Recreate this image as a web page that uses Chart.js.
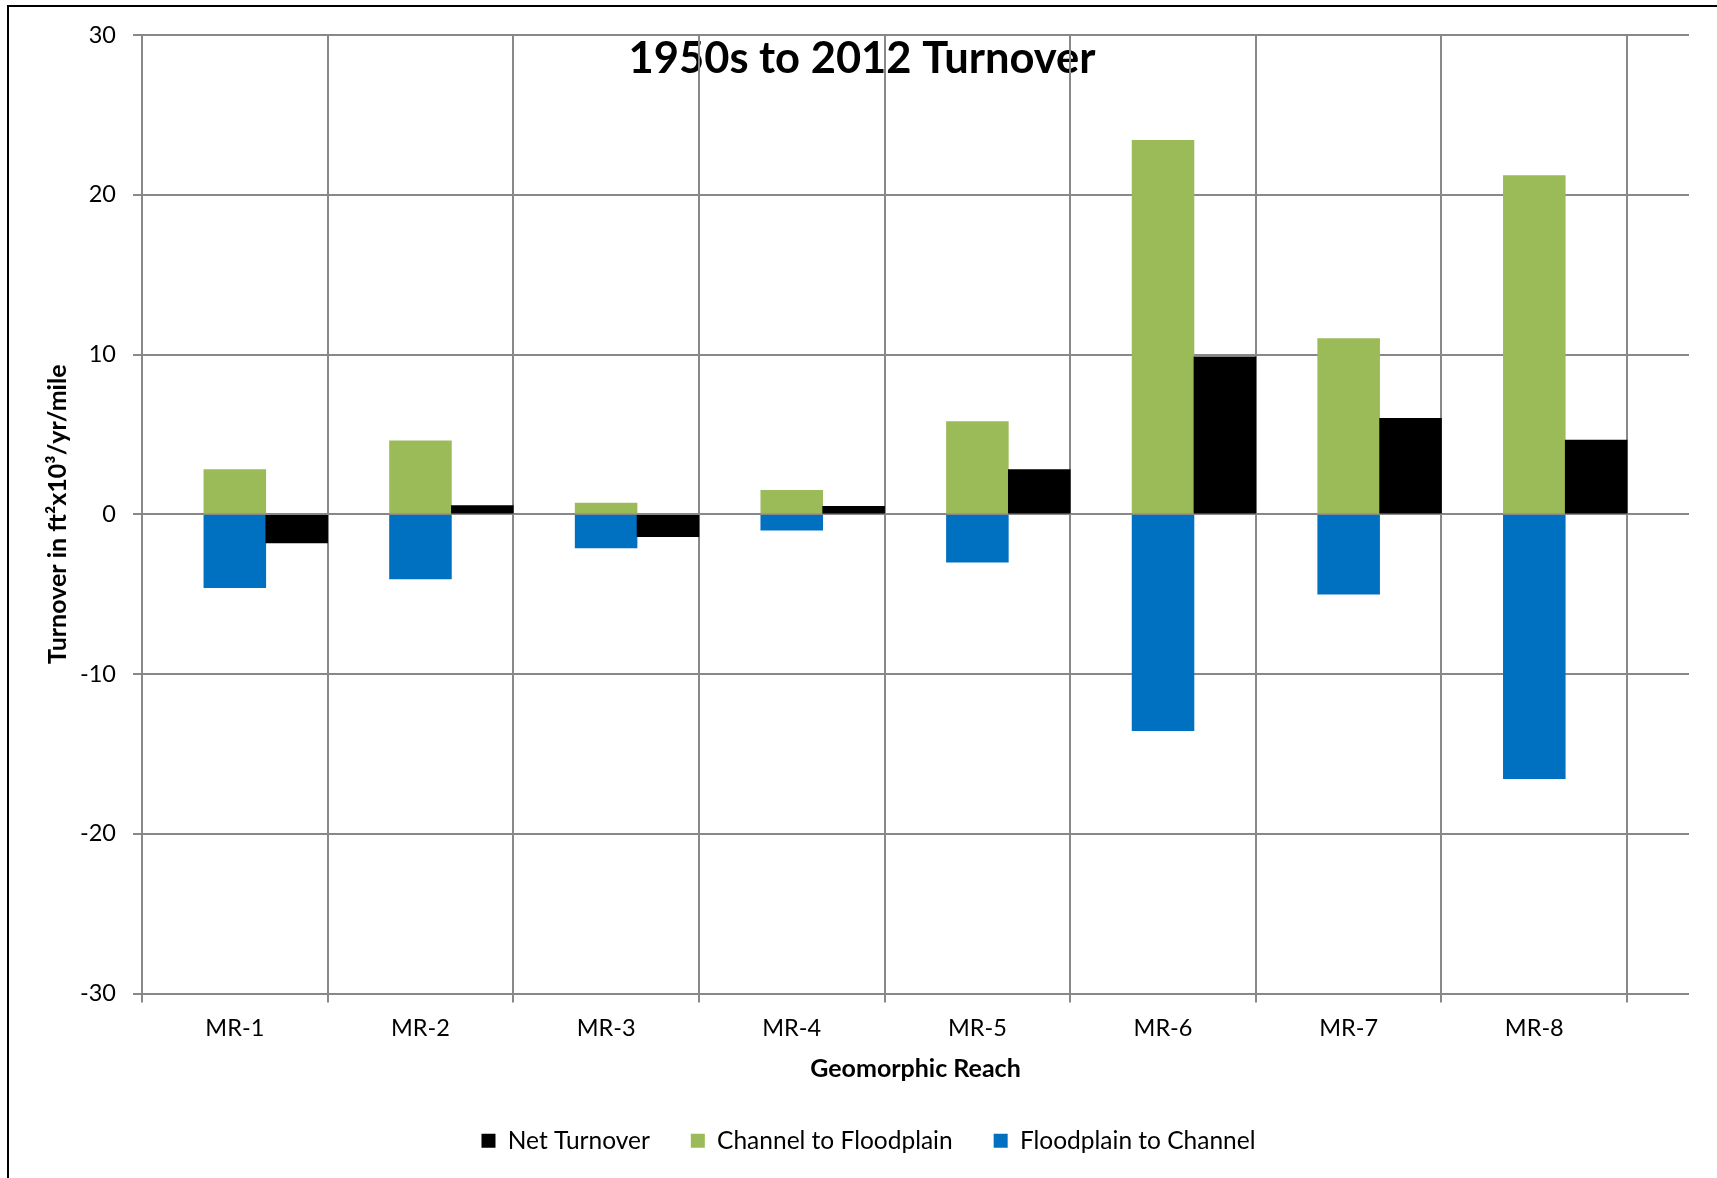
<!DOCTYPE html>
<html>
<head>
<meta charset="utf-8">
<title>1950s to 2012 Turnover</title>
<script src="https://cdn.jsdelivr.net/npm/chart.js@4.4.0/dist/chart.umd.min.js"></script>
<style>
  body { margin: 0; background: #fff; }
  #wrap { position: relative; width: 1717px; height: 1178px; overflow: hidden; }
  #frame { position: absolute; left: 7px; top: 5px; right: -10px; bottom: -10px;
           border-left: 2px solid #000; border-top: 2px solid #000; }
  #myChart { position: absolute; left: 0; top: 0; }
</style>
</head>
<body>
<div id="wrap">
  <div id="frame"></div>
  <canvas id="myChart" width="1717" height="1178"></canvas>
</div>
<script>
const reaches = ["MR-1", "MR-2", "MR-3", "MR-4", "MR-5", "MR-6", "MR-7", "MR-8"];
const netTurnover = [-1.8, 0.55, -1.4, 0.5, 2.8, 9.85, 6.0, 4.65];
const channelToFloodplain = [2.8, 4.6, 0.7, 1.5, 5.8, 23.4, 11.0, 21.2];
const floodplainToChannel = [-4.6, -4.05, -2.1, -1.0, -3.0, -13.55, -5.0, -16.55];
const yRange = { min: -30, max: 30, step: 10 };

// every reach is split in 3 slots: empty, channel/floodplain pair, net
// one extra empty slot closes the plot on the right
const slotsPerReach = 3;
const slotCount = reaches.length * slotsPerReach + 1;
const slotLabels = [];
for (let i = 0; i < slotCount; i++) {
  slotLabels.push(i % slotsPerReach === 1 ? reaches[(i - 1) / slotsPerReach] : "");
}

function placeInSlot(values, slot) {
  const out = new Array(slotCount).fill(null);
  values.forEach((v, i) => { out[i * slotsPerReach + slot] = v; });
  return out;
}

const gridGrey = "#888888";
const family = "Lato";

// chart title sits inside the plot, under the grid lines
const overlayTitle = {
  id: "overlayTitle",
  beforeDraw(chart, args, opts) {
    const ctx = chart.ctx;
    ctx.save();
    ctx.font = "bold 43.5px " + family;
    ctx.fillStyle = "#000";
    ctx.textAlign = "center";
    ctx.textBaseline = "alphabetic";
    ctx.fillText(opts.text, opts.x, opts.y);
    ctx.restore();
  }
};

new Chart("myChart", {
  type: "bar",
  data: {
    labels: slotLabels,
    datasets: [{
      label: "Net Turnover",
      data: placeInSlot(netTurnover, 2),
      backgroundColor: "#000000"
    }, {
      label: "Channel to Floodplain",
      data: placeInSlot(channelToFloodplain, 1),
      backgroundColor: "#9BBB59"
    }, {
      label: "Floodplain to Channel",
      data: placeInSlot(floodplainToChannel, 1),
      backgroundColor: "#0070C0"
    }]
  },
  options: {
    responsive: false,
    animation: false,
    layout: { padding: { top: 35, left: 48, right: 28, bottom: 15 } },
    datasets: {
      bar: { grouped: false, barPercentage: 1, categoryPercentage: 1, borderWidth: 0 }
    },
    scales: {
      x: {
        grid: {
          offset: true,
          lineWidth: 2,
          tickLength: 9,
          color: ctx => ctx.index % slotsPerReach === 0 ? gridGrey : "transparent"
        },
        border: { display: false },
        ticks: {
          autoSkip: false, maxRotation: 0, padding: 12,
          color: "#000", font: { family, size: 23.5 }
        },
        title: {
          display: true, text: "Geomorphic Reach", color: "#000",
          font: { family, size: 25, weight: "bold" },
          padding: { top: 0, bottom: 4 }
        },
        afterFit: s => { s.height = 94; }
      },
      y: {
        min: yRange.min,
        max: yRange.max,
        grid: { color: gridGrey, lineWidth: 2, tickLength: 9 },
        border: { color: gridGrey, width: 2 },
        ticks: {
          stepSize: yRange.step, padding: 17,
          color: "#000", font: { family, size: 23.5 }
        },
        title: {
          display: true, text: "Turnover in ft²x10³/yr/mile", color: "#000",
          font: { family, size: 25, weight: "bold" },
          padding: { top: -5, bottom: 0 }
        },
        afterFit: s => { s.width = 94; }
      }
    },
    plugins: {
      legend: {
        position: "bottom",
        labels: {
          boxWidth: 14, boxHeight: 14, padding: 41,
          color: "#000", font: { family, size: 24.5 }
        }
      },
      tooltip: { enabled: false },
      overlayTitle: { text: "1950s to 2012 Turnover", x: 862, y: 73 }
    }
  },
  plugins: [overlayTitle]
});
</script>
</body>
</html>
